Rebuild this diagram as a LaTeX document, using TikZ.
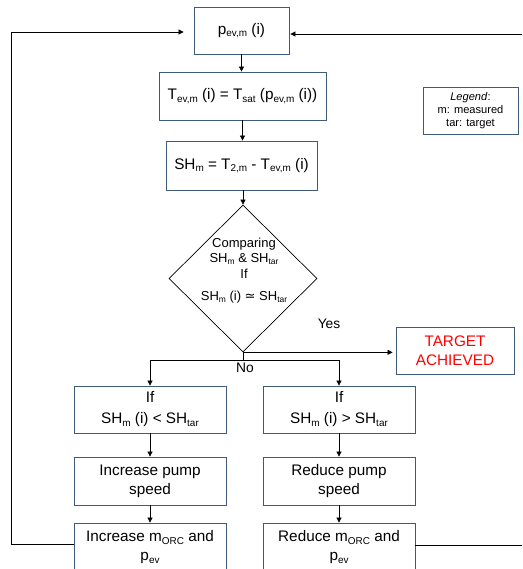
\documentclass[tikz,border=0pt]{standalone}
\usepackage{fontspec}
\setmainfont{Liberation Sans}
\newfontfamily\djv{DejaVu Sans}
\usetikzlibrary{arrows.meta,shapes.geometric}
\makeatletter
\newcommand\sbs[1]{\raisebox{-0.18em}{\fontsize{\fpeval{0.65*\f@size}}{1}\selectfont #1}}
\makeatother
\newcommand\mainf{\fontsize{15.3}{19}\selectfont}
\newcommand\dfont{\fontsize{13}{15.5}\selectfont}
\newcommand\lfont{\fontsize{11.1}{13.3}\selectfont}
\newcommand\yfont{\fontsize{13.8}{16}\selectfont}
\definecolor{bord}{RGB}{62,92,122}
\tikzset{
  box/.style={draw=bord, line width=0.8pt, fill=white, align=center, inner sep=2pt, font=\mainf},
  arr/.style={-{Triangle[length=5pt,width=5pt]}, line width=0.7pt},
  ln/.style={line width=0.7pt}
}
\begin{document}
\begin{tikzpicture}[x=1pt,y=-1pt]
\useasboundingbox (0,0) rectangle (522,569);
\clip (0,0) rectangle (522,569);
\fill[white] (0,0) rectangle (522,569);
\node[box, minimum width=95pt, minimum height=47pt] (P) at (241.5,30.5) {p\sbs{ev,m} (i)};
\node[box, minimum width=167pt, minimum height=48pt] (T) at (242.5,96) {T\sbs{ev,m} (i) = T\sbs{sat} (p\sbs{ev,m} (i))};
\node[box, minimum width=151pt, minimum height=49pt] (S) at (241.5,165.5) {SH\sbs{m} = T\sbs{2,m} - T\sbs{ev,m} (i)};
\node[draw, diamond, minimum width=148pt, minimum height=147pt, inner sep=0pt, line width=0.7pt] (D) at (243,278.5) {};
\node[font=\dfont, align=center, inner sep=0pt] (DT) at (244,270.5) {Comparing\\SH\sbs{m} \& SH\sbs{tar}\\If\\[7pt]SH\sbs{m} (i) {\djv ≃} SH\sbs{tar}};
\node[box, minimum width=95pt, minimum height=47pt, font=\lfont] (LG) at (470.5,110.5) {\textit{Legend}:\\m: measured\\tar: target};
\node[box, minimum width=118pt, minimum height=47pt, text=red] (G) at (455,350.5) {TARGET\\ACHIEVED};
\node[font=\yfont] (yes) at (329,324) {Yes};
\node[font=\yfont] (no) at (245,368) {No};
\node[box, minimum width=152pt, minimum height=47pt] (L1) at (150,409.5) {If\\[2pt]SH\sbs{m} (i) < SH\sbs{tar}};
\node[box, minimum width=152pt, minimum height=48pt] (L2) at (150,481) {Increase pump\\speed};
\node[box, minimum width=152pt, minimum height=49pt] (L3) at (150,547.5) {Increase m\sbs{ORC} and\\p\sbs{ev}};
\node[box, minimum width=152pt, minimum height=47pt] (R1) at (339,409.5) {If\\[2pt]SH\sbs{m} (i) > SH\sbs{tar}};
\node[box, minimum width=152pt, minimum height=48pt] (R2) at (339,481) {Reduce pump\\speed};
\node[box, minimum width=152pt, minimum height=49pt] (R3) at (339,547.5) {Reduce m\sbs{ORC} and\\p\sbs{ev}};
% connectors
\draw[arr] (P.south) -- (P.south |- T.north);
\draw[arr] (T.south) -- (T.south |- S.north);
\draw[arr] (S.south -| D.north) -- (D.north);
\path (D.south) ++(0,8) coordinate (B);
\draw[ln] (D.south) -- (B);
\draw[arr] (B) -| (L1.north);
\draw[arr] (B) -| (R1.north);
\draw[arr, shorten >=3pt] (D.south) -- (D.south -| G.west);
\draw[arr] (L1) -- (L2);
\draw[arr] (L2) -- (L3);
\draw[arr] (R1) -- (R2);
\draw[arr] (R2) -- (R3);
\draw[arr, shorten >=10pt] ([yshift=3.5pt]L3.west) -- ++(-62,0) |- ([yshift=-1.5pt]P.west);
\draw[arr, shorten >=1pt] ([yshift=2.5pt]R3.east) -- ++(110,0) |- ([yshift=-3.5pt]P.east);
\end{tikzpicture}
\end{document}
